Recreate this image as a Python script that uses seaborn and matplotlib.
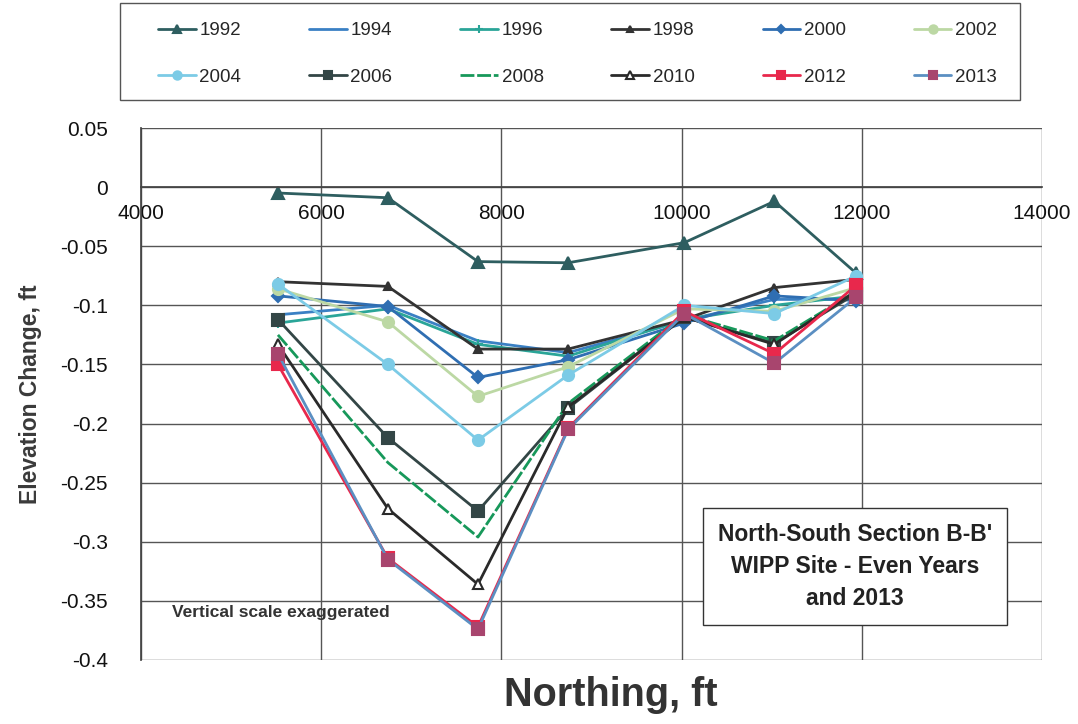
import matplotlib
matplotlib.use("Agg")
import matplotlib.pyplot as plt
from matplotlib.patches import Rectangle
import seaborn as sns
import pandas as pd

sns.set_theme(style="white")
plt.rcParams['font.family'] = ['Liberation Sans', 'DejaVu Sans']

northing = [5520, 6740, 7740, 8740, 10030, 11030, 11940]
years = ["1992", "1994", "1996", "1998", "2000", "2002",
         "2004", "2006", "2008", "2010", "2012", "2013"]
y1992 = [-0.005, -0.009, -0.063, -0.064, -0.047, -0.012, -0.073]
y1994 = [-0.108, -0.100, -0.130, -0.140, -0.113, -0.095, -0.095]
y1996 = [-0.115, -0.103, -0.133, -0.143, -0.112, -0.100, -0.092]
y1998 = [-0.080, -0.084, -0.137, -0.137, -0.112, -0.085, -0.078]
y2000 = [-0.092, -0.101, -0.161, -0.146, -0.115, -0.092, -0.096]
y2002 = [-0.086, -0.114, -0.177, -0.152, -0.103, -0.105, -0.085]
y2004 = [-0.082, -0.150, -0.214, -0.159, -0.100, -0.107, -0.075]
y2006 = [-0.112, -0.212, -0.274, -0.187, -0.110, -0.132, -0.090]
y2008 = [-0.125, -0.233, -0.296, -0.183, -0.108, -0.130, -0.088]
y2010 = [-0.133, -0.272, -0.336, -0.186, -0.110, -0.133, -0.088]
y2012 = [-0.150, -0.314, -0.372, -0.204, -0.105, -0.141, -0.083]
y2013 = [-0.141, -0.315, -0.374, -0.205, -0.107, -0.149, -0.093]
series = [y1992, y1994, y1996, y1998, y2000, y2002,
          y2004, y2006, y2008, y2010, y2012, y2013]

xticks = [4000, 6000, 8000, 10000, 12000, 14000]
yticks = [0.05, 0, -0.05, -0.1, -0.15, -0.2, -0.25, -0.3, -0.35, -0.4]
ytick_labels = ["0.05", "0", "-0.05", "-0.1", "-0.15", "-0.2", "-0.25", "-0.3", "-0.35", "-0.4"]

styles = {
    "1992": dict(color="#2e5e60", marker="^", ms=8, mfc="#2e5e60", mec="#2e5e60", ls="-"),
    "1994": dict(color="#3a80c4", marker=None, ms=0, mfc="#3a80c4", mec="#3a80c4", ls="-"),
    "1996": dict(color="#2aa598", marker="+", ms=7, mfc="#2aa598", mec="#2aa598", ls="-"),
    "1998": dict(color="#333333", marker="^", ms=6, mfc="#333333", mec="#333333", ls="-"),
    "2000": dict(color="#2f6eb2", marker="D", ms=6, mfc="#2f6eb2", mec="#2f6eb2", ls="-"),
    "2002": dict(color="#bcd8a4", marker="o", ms=8, mfc="#bcd8a4", mec="#bcd8a4", ls="-"),
    "2004": dict(color="#7ccbe6", marker="o", ms=8, mfc="#7ccbe6", mec="#7ccbe6", ls="-"),
    "2006": dict(color="#334646", marker="s", ms=8, mfc="#334646", mec="#334646", ls="-"),
    "2008": dict(color="#17985a", marker=None, ms=0, mfc="#17985a", mec="#17985a", ls=(0, (5, 1))),
    "2010": dict(color="#2a2a2a", marker="^", ms=7, mfc="white", mec="#2a2a2a", ls="-"),
    "2012": dict(color="#e8284c", marker="s", ms=8, mfc="#e8284c", mec="#e8284c", ls="-"),
    "2013": dict(color="#5b8fc2", marker="s", ms=8, mfc="#a8456e", mec="#a8456e", ls="-"),
}

fig = plt.figure(figsize=(10.78, 7.24), dpi=100)
ax = fig.add_axes([0.1308, 0.0884, 0.8358, 0.7348])

for yr, vals in zip(years, series):
    st = styles[yr]
    df = pd.DataFrame({"Northing": northing, "Change": vals})
    kw = dict(color=st["color"], linestyle=st["ls"], linewidth=2.0, label=yr)
    if st["marker"] is not None:
        kw.update(marker=st["marker"], markersize=st["ms"],
                  markerfacecolor=st["mfc"], markeredgecolor=st["mec"], markeredgewidth=1.5)
    sns.lineplot(data=df, x="Northing", y="Change", ax=ax, sort=False, **kw)

ax.set_xlim(4000, 14000)
ax.set_ylim(-0.4, 0.05)
ax.set_xticks(xticks)
ax.set_xticklabels([str(t) for t in xticks])
ax.set_yticks(yticks)
ax.set_yticklabels(ytick_labels)
ax.grid(True, color="#555555", linewidth=1.0)
ax.set_axisbelow(True)
for s in ["top", "right"]:
    ax.spines[s].set_visible(False)
ax.spines["bottom"].set_position(("data", 0))
ax.spines["bottom"].set_color("#444444")
ax.spines["left"].set_color("#444444")
ax.tick_params(axis="x", length=0, pad=12, colors="#111111", labelsize=15)
ax.tick_params(axis="y", length=0, pad=24, colors="#111111", labelsize=15)
ax.set_xlabel("")
ax.set_ylabel("")
if ax.get_legend():
    ax.get_legend().remove()

fig.text(0.028, 0.455, "Elevation Change, ft", rotation=90, ha="center", va="center",
         fontsize=16.5, fontweight="bold", color="#3a3a3a")
fig.text(0.567, 0.04, "Northing, ft", ha="center", va="center",
         fontsize=28.5, fontweight="bold", color="#333333")

ax.text(4344, -0.3596, "Vertical scale exaggerated", fontsize=12.5, fontweight="bold",
        color="#333333", ha="left", va="center")

fig.text(0.793, 0.217, "North-South Section B-B'\nWIPP Site - Even Years\nand 2013",
         ha="center", va="center", fontsize=16.5, fontweight="bold", color="#222222",
         linespacing=1.5,
         bbox=dict(boxstyle="square,pad=0.65", facecolor="white", edgecolor="#333333", linewidth=1))

# legend frame
fig.patches.append(Rectangle((120 / 1078, 1 - 100 / 724), 900 / 1078, 97 / 724,
                             transform=fig.transFigure, facecolor="white",
                             edgecolor="#555555", linewidth=1.0, zorder=0))

handles, labels = ax.get_legend_handles_labels()
order = []
for c in range(6):
    order += [c, c + 6]
handles = [handles[i] for i in order]
labels = [labels[i] for i in order]
leg = fig.legend(handles, labels, loc="center", bbox_to_anchor=(158 / 1078, 1 - 54 / 724, 839 / 1078, 0.0),
                 mode="expand", ncol=6, fontsize=13.5, frameon=False, markerscale=0.75,
                 handlelength=2.0, handletextpad=0.2,
                 borderpad=0, labelspacing=1.56, columnspacing=1.0, borderaxespad=0)

fig.savefig("out.png", dpi=100)
